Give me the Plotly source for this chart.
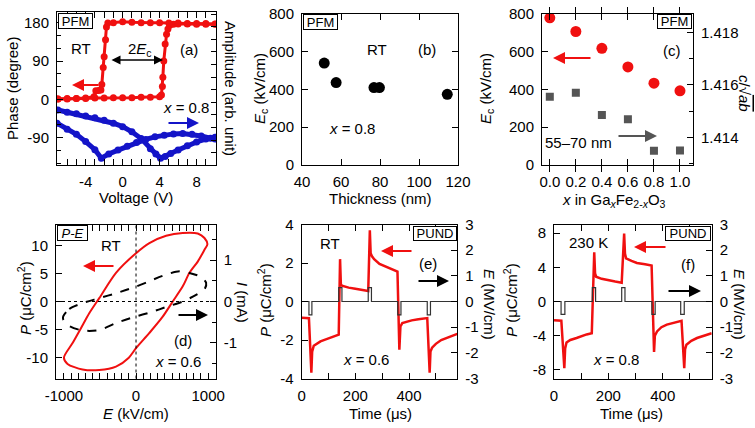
import plotly.graph_objects as go

W, H = 755, 428
FONT = "Liberation Sans, Arial, sans-serif"
RED = "#f01010"
BLUE = "#1414c8"

def px(x):
    return x / W

def py(y):
    return 1 - y / H

# ---------------- data ----------------
# (a) PFM phase loop (degree) and amplitude butterfly (arb. unit, drawn on phase scale)
volt_up = [-7, -6, -5, -4, -3, -2, -1, 0, 1, 2, 3, 4, 4.2, 4.3, 4.35, 4.45, 4.6, 4.75, 4.9, 5.1, 5.5, 6, 7, 8, 9, 10]
phase_up = [1, 1, 2, 2, 3, 3, 4, 4, 4, 5, 5, 6, 10, 30, 52, 90, 130, 153, 165, 174, 176, 177, 177, 176, 176, 176]
volt_dn = [10, 9, 8, 7, 6, 5, 4, 3, 2, 1, 0, -1, -1.6, -1.75, -1.85, -2.0, -2.1, -2.25, -2.35, -2.6, -2.9, -3.1, -4, -5, -6, -7]
phase_dn = [177, 178, 178, 178, 179, 179, 180, 180, 180, 181, 182, 180, 179, 170, 140, 100, 75, 35, 22, 21, 20, 6, 3, 2, 2, 1]
volt_ampA = [-7, -6, -5, -4, -3, -2, -1, 0, 1, 2, 3, 3.6, 4.1, 4.6, 5.2, 6, 7, 8, 9, 10]
amp_A = [-25, -30, -34, -39, -43, -49, -56, -64, -76, -92, -116, -128, -138, -134, -127, -119, -109, -100, -93, -89]
volt_ampB = [-7.1, -6, -5, -4, -3, -2.3, -1.5, -0.5, 0.5, 1.5, 2.5, 3.5, 4.5, 5.5, 6.5, 7.5, 8.5, 9.5, 10]
amp_B = [-56, -70, -82, -99, -118, -138, -128, -119, -110, -101, -94, -88, -84, -81, -80, -82, -86, -91, -93]

# (b) Ec vs thickness
thick = [51.4, 57.5, 76.9, 79.7, 114.5]
ec_thick = [538, 435, 409, 409, 373]

# (c) Ec and c/sqrt(ab) vs x
x_ga = [0.0, 0.2, 0.4, 0.6, 0.8, 1.0]
ec_ga = [777, 705, 616, 518, 432, 392]
c_ab = [1.41555, 1.41570, 1.41485, 1.41469, 1.41348, 1.41349]

# (d) P-E loop and I-E
pe_E = [-1000, -880, -764, -649, -510, -278, 0, 185, 417, 648, 856, 949, 990,
        949, 856, 741, 648, 509, 370, 185, 0, -100, -278, -510, -742, -950, -1000]
pe_P = [-10.0, -7.4, -4.75, -2.1, 0.6, 5.1, 8.6, 10.4, 11.7, 12.2, 12.1, 11.3, 10.2,
        9.2, 7.1, 5.1, 2.7, 0.0, -2.7, -5.6, -8.3, -10.0, -11.6, -12.2, -12.1, -11.1, -10.0]
ie_E = [-1010, -926, -742, -510, -278, 0, 185, 417, 602, 741, 903, 972, 955,
        833, 648, 440, 185, 0, -278, -510, -742, -926, -1009, -1010]
ie_I = [-0.36, -0.18, -0.04, 0.08, 0.2, 0.36, 0.49, 0.65, 0.73, 0.69, 0.59, 0.45, 0.31,
        0.16, 0.0, -0.12, -0.27, -0.36, -0.52, -0.69, -0.70, -0.59, -0.44, -0.36]

# (e) PUND, RT, x = 0.6
t_e = [0, 27, 36, 39, 45, 55, 70, 90, 110, 125, 138, 143, 146, 150, 160, 175, 200, 225, 248,
       254, 257, 262, 270, 290, 315, 340, 357, 364, 368, 375, 390, 410, 435, 468,
       477, 480, 486, 500, 520, 545, 580]
P_e = [-0.85, -0.87, -3.7, -2.6, -2.3, -2.2, -2.07, -1.97, -1.87, -1.8, -1.72, 2.2, 0.9, 0.82, 0.77, 0.72, 0.66, 0.6, 0.55,
       3.7, 2.5, 2.35, 2.2, 1.95, 1.8, 1.65, 1.55, -2.5, -1.3, -1.12, -1.05, -0.98, -0.92, -0.86,
       -3.7, -2.6, -2.4, -2.2, -2.0, -1.85, -1.68]
tE_e = [0, 27, 38, 138, 150, 248, 260, 358, 370, 468, 480, 580]
E_e = [0, -0.52, 0, 0.54, 0, 0.54, 0, -0.52, 0, -0.52, 0, 0]

# (f) PUND, 230 K, x = 0.8
t_f = [0, 27, 38, 41, 46, 60, 83, 100, 120, 139, 148, 151, 155, 175, 194, 225, 249,
       258, 261, 265, 285, 305, 335, 359, 368, 371, 379, 395, 415, 445, 469,
       479, 482, 487, 505, 526, 555, 580]
P_f = [-2.2, -2.25, -7.8, -5.5, -4.8, -4.5, -4.27, -4.05, -3.85, -3.7, 5.75, 3.3, 2.9, 2.65, 2.5, 2.33, 2.2,
       7.95, 5.6, 5.05, 4.75, 4.5, 4.35, 4.2, -5.9, -4.0, -3.5, -3.0, -2.7, -2.4, -2.25,
       -7.8, -5.6, -5.05, -4.6, -4.27, -3.95, -3.7]
tE_f = [0, 26, 40, 141, 153, 249, 261, 360, 372, 466, 479, 580]
E_f = [0, -0.5, 0, 0.54, 0, 0.54, 0, -0.5, 0, -0.5, 0, 0]

# ---------------- figure ----------------
fig = go.Figure()

# (a)
fig.add_trace(go.Scatter(x=volt_ampA, y=amp_A, mode="lines+markers", xaxis="x", yaxis="y7",
                         line=dict(color=BLUE, width=5), marker=dict(size=7, color=BLUE)))
fig.add_trace(go.Scatter(x=volt_ampB, y=amp_B, mode="lines+markers", xaxis="x", yaxis="y7",
                         line=dict(color=BLUE, width=5), marker=dict(size=7, color=BLUE)))
fig.add_trace(go.Scatter(x=volt_up, y=phase_up, mode="lines+markers", xaxis="x", yaxis="y",
                         line=dict(color=RED, width=3), marker=dict(size=7, color=RED)))
fig.add_trace(go.Scatter(x=volt_dn, y=phase_dn, mode="lines+markers", xaxis="x", yaxis="y",
                         line=dict(color=RED, width=3), marker=dict(size=7, color=RED)))
# (b)
fig.add_trace(go.Scatter(x=thick, y=ec_thick, mode="markers", xaxis="x2", yaxis="y2",
                         marker=dict(size=11, color="black")))
# (c)
fig.add_trace(go.Scatter(x=x_ga, y=c_ab, mode="markers", xaxis="x3", yaxis="y8",
                         marker=dict(size=8, color="#555555", symbol="square")))
fig.add_trace(go.Scatter(x=x_ga, y=ec_ga, mode="markers", xaxis="x3", yaxis="y3",
                         marker=dict(size=11, color=RED)))
# (d)
fig.add_trace(go.Scatter(x=ie_E, y=ie_I, mode="lines", xaxis="x4", yaxis="y9",
                         line=dict(color="black", width=2, dash="dash", shape="spline", smoothing=0.8)))
fig.add_trace(go.Scatter(x=pe_E, y=pe_P, mode="lines", xaxis="x4", yaxis="y4",
                         line=dict(color=RED, width=2, shape="spline", smoothing=0.8)))
# (e)
fig.add_trace(go.Scatter(x=tE_e, y=E_e, mode="lines", xaxis="x5", yaxis="y10",
                         line=dict(color="#333333", width=1.2, shape="hv")))
fig.add_trace(go.Scatter(x=t_e, y=P_e, mode="lines", xaxis="x5", yaxis="y5",
                         line=dict(color=RED, width=2.5)))
# (f)
fig.add_trace(go.Scatter(x=tE_f, y=E_f, mode="lines", xaxis="x6", yaxis="y11",
                         line=dict(color="#333333", width=1.2, shape="hv")))
fig.add_trace(go.Scatter(x=t_f, y=P_f, mode="lines", xaxis="x6", yaxis="y6",
                         line=dict(color=RED, width=2.5)))

common = dict(showline=True, linecolor="black", linewidth=1, ticks="inside", ticklen=6,
              tickwidth=1, tickcolor="black", showgrid=False, zeroline=False, automargin=False,
              tickfont=dict(size=15, color="black", family=FONT))

def lab(vals, fmt="{:g}"):
    return [fmt.format(v) for v in vals]

def minor_ticks(dtick, length=3):
    return dict(dtick=dtick, ticks="inside", ticklen=length, tickcolor="black", showgrid=False)

def xax(dom, rng, anchor, vals, text, minor=None, minorlen=3, standoff=3):
    d = dict(common, domain=[px(dom[0]), px(dom[1])], range=rng, anchor=anchor,
             tickmode="array", tickvals=vals, ticktext=text, mirror="allticks",
             ticklabelstandoff=standoff)
    if minor:
        d["minor"] = minor_ticks(minor, minorlen)
    return d

def yax(dom, rng, anchor, vals, text, mirror=False, side="left", overlaying=None, minor=None,
        minorlen=3, standoff=4):
    d = dict(common, domain=[py(dom[1]), py(dom[0])], range=rng, anchor=anchor,
             tickmode="array", tickvals=vals, ticktext=text, side=side,
             mirror="allticks" if mirror else False, ticklabelstandoff=standoff)
    if overlaying:
        d["overlaying"] = overlaying
    if minor:
        d["minor"] = minor_ticks(minor, minorlen)
    return d

A = ([57, 216], [12, 165])
B = ([302, 458], [13.5, 165])
C = ([542, 693], [13.5, 165])
D = ([56, 215.7], [224.5, 378.5])
E = ([301.7, 457.3], [224.5, 378.5])
F = ([554, 711.7], [224.5, 378.5])

ya = [-90, 0, 90, 180]
xb = [40, 60, 80, 100, 120]
yb = [0, 200, 400, 600, 800]
xc = [0.0, 0.2, 0.4, 0.6, 0.8, 1.0]
yc2 = [1.414, 1.416, 1.418]
xd = [-1000, 0, 1000]
yd = [-10, -5, 0, 5, 10]
yd2 = [-1, 0, 1]
xt = [0, 200, 400]
ye = [-4, -2, 0, 2, 4]
yf = [-8, -4, 0, 4, 8]
yE = [-3, -2, -1, 0, 1, 2, 3]

amp_axis = dict(common, domain=[py(A[1][1]), py(A[1][0])], range=[-154, 205], anchor="x",
                side="right", overlaying="y", tickmode="linear", tick0=-36.6, dtick=29.6,
                showticklabels=False, ticklen=5)

fig.update_layout(
    width=W, height=H, autosize=False, margin=dict(l=0, r=0, t=0, b=0, pad=0),
    paper_bgcolor="white", plot_bgcolor="rgba(0,0,0,0)", showlegend=False,
    font=dict(family=FONT, size=15, color="black"),
    xaxis=xax(A[0], [-7.1, 10.1], "y", [-4, 0, 4, 8], lab([-4, 0, 4, 8]), minor=1),
    yaxis=yax(A[1], [-154, 205], "x", ya, lab(ya), minor=30, minorlen=4),
    yaxis7=amp_axis,
    xaxis2=xax(B[0], [40, 120], "y2", xb, lab(xb)),
    yaxis2=yax(B[1], [0, 800], "x2", yb, lab(yb), mirror=True),
    xaxis3=xax(C[0], [-0.06, 1.1], "y3", xc, lab(xc, fmt="{:.1f}")),
    yaxis3=yax(C[1], [0, 800], "x3", yb, lab(yb)),
    yaxis8=yax(C[1], [1.41294, 1.41873], "x3", yc2, lab(yc2, fmt="{:.3f}"), side="right",
               overlaying="y3", minor=0.001, minorlen=4),
    xaxis4=xax(D[0], [-1110, 1105], "y4", xd, lab(xd), minor=100),
    yaxis4=yax(D[1], [-13.7, 13.7], "x4", yd, lab(yd)),
    yaxis9=yax(D[1], [-1.86, 1.86], "x4", yd2, lab(yd2), side="right", overlaying="y4",
               minor=0.5, minorlen=4),
    xaxis5=xax(E[0], [0, 580], "y5", xt, lab(xt), minor=100, minorlen=5),
    yaxis5=yax(E[1], [-4, 4], "x5", ye, lab(ye)),
    yaxis10=yax(E[1], [-3, 3], "x5", yE, lab(yE), side="right", overlaying="y5"),
    xaxis6=xax(F[0], [0, 580], "y6", xt, lab(xt), minor=100, minorlen=5),
    yaxis6=yax(F[1], [-9, 9], "x6", yf, lab(yf)),
    yaxis11=yax(F[1], [-3, 3], "x6", yE, lab(yE), side="right", overlaying="y6"),
)

# dotted zero lines in (d)
fig.add_shape(type="line", xref="x4", yref="y4 domain", x0=0, x1=0, y0=0, y1=1,
              line=dict(color="black", width=1, dash="dot"))
fig.add_shape(type="line", xref="x4 domain", yref="y4", x0=0, x1=1, y0=0, y1=0,
              line=dict(color="black", width=1, dash="dot"))

ann = []

def text(x, y, s, size=15, angle=0, color="black"):
    ann.append(dict(x=px(x), y=py(y), xref="paper", yref="paper", text=s, showarrow=False,
                    font=dict(size=size, family=FONT, color=color), textangle=angle,
                    xanchor="center", yanchor="middle"))

def box(x0, y0, x1, y1, s, size=13):
    ann.append(dict(x=px((x0 + x1) / 2), y=py((y0 + y1) / 2), xref="paper", yref="paper",
                    text=s, showarrow=False, font=dict(size=size, family=FONT, color="black"),
                    bordercolor="black", borderwidth=1, borderpad=0, bgcolor="white",
                    width=x1 - x0 - 2, height=y1 - y0 - 2, xanchor="center", yanchor="middle"))

def arrow(x_tail, y, x_tip, color, both=False):
    d = dict(x=px(x_tip), y=py(y), xref="paper", yref="paper", ax=x_tail - x_tip, ay=0,
             text="", showarrow=True, arrowhead=2, arrowsize=1.2, arrowwidth=2, arrowcolor=color)
    if both:
        d["arrowside"] = "end+start"
        d["arrowwidth"] = 1.5
    ann.append(d)

# (a)
box(58, 13, 93, 29, "PFM")
text(81, 48, "RT")
text(140, 49, "2<i>E</i><sub>c</sub>")
arrow(110, 60, 163, "black", both=True)
text(189, 49, "(a)")
arrow(100, 85, 72, RED)
text(186, 108, "<i>x</i> = 0.8")
arrow(167, 123, 199, BLUE)
text(13, 89, "Phase (degree)", angle=-90)
text(231, 88, "Amplitude (arb. unit)", angle=90)
text(136, 197, "Voltage (V)")
# (b)
box(303, 14, 338, 30, "PFM")
text(377, 49, "RT")
text(427, 49, "(b)")
text(352, 128, "<i>x</i> = 0.8")
text(261, 89, "<i>E</i><sub>c</sub> (kV/cm)", angle=-90)
text(380, 198, "Thickness (nm)")
# (c)
box(657, 14, 692, 29, "PFM")
text(672, 51, "(c)")
arrow(592, 58, 553, RED)
text(578, 142, "55–70 nm")
arrow(617, 136, 657, "#555555")
text(487, 89, "<i>E</i><sub>c</sub> (kV/cm)", angle=-90)
text(745, 93, "<i>c</i>/√<span style='text-decoration:overline'><i>ab</i></span>", angle=90)
text(614, 200, "<i>x</i> in Ga<sub><i>x</i></sub>Fe<sub>2-<i>x</i></sub>O<sub>3</sub>")
# (d)
box(57, 225, 88, 241, "<i>P-E</i>")
text(111, 245, "RT")
arrow(115, 266, 83, RED)
arrow(177, 315, 208, "black")
text(183, 340, "(d)")
text(178, 361, "<i>x</i> = 0.6")
text(24, 298, "<i>P</i> (μC/cm<sup>2</sup>)", angle=-90)
text(243, 302, "<i>I</i> (mA)", angle=90)
text(136, 413, "<i>E</i> (kV/cm)")
# (e)
box(413, 226, 457, 241, "PUND")
text(330, 244, "RT")
arrow(413, 251, 381, RED)
text(428, 263, "(e)")
arrow(417, 281, 449, "black")
text(366, 359, "<i>x</i> = 0.6")
text(264, 300, "<i>P</i> (μC/cm<sup>2</sup>)", angle=-90)
text(490, 304, "<i>E</i> (MV/cm)", angle=90)
text(380, 413, "Time (μs)")
# (f)
box(665, 226, 711, 241, "PUND")
text(588, 242, "230 K")
arrow(667, 247, 634, RED)
text(688, 264, "(f)")
arrow(667, 291, 701, "black")
text(616, 359, "<i>x</i> = 0.8")
text(510, 300, "<i>P</i> (μC/cm<sup>2</sup>)", angle=-90)
text(740, 304, "<i>E</i> (MV/cm)", angle=90)
text(631, 413, "Time (μs)")

fig.update_layout(annotations=ann)
fig.write_html("out.html", config={"displayModeBar": False, "staticPlot": True},
               post_script="document.body.style.margin='0';document.body.style.padding='0';"
                           "document.documentElement.style.overflow='hidden';")
